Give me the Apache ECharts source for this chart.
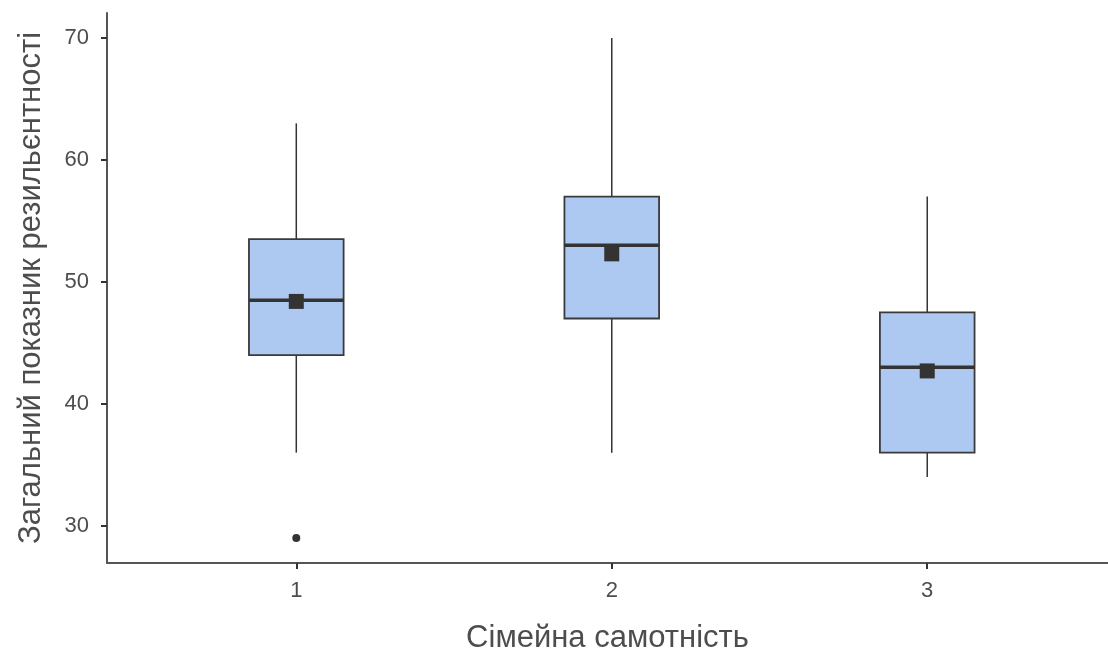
<!DOCTYPE html>
<html>
<head>
<meta charset="utf-8">
<script src="https://cdn.jsdelivr.net/npm/echarts@6/dist/echarts.min.js"></script>
<style>html,body{margin:0;padding:0;background:#fff}#c{width:1108px;height:652px}</style>
</head>
<body>
<div id="c"></div>
<script>
var categories = [1, 2, 3];
var whiskerLow = [36, 36, 34];
var q1 = [44, 47, 36];
var median = [48.5, 53, 43];
var q3 = [53.5, 57, 47.5];
var whiskerHigh = [63, 70, 57];
var means = [48.4, 52.3, 42.7];
var outliers = [[1, 29]];
var tickLabels = ['1', '2', '3'];
var yTicks = [30, 40, 50, 60, 70];

var boxData = categories.map(function (c, i) {
  return [c, whiskerLow[i], q1[i], median[i], q3[i], whiskerHigh[i]];
});
var meanData = categories.map(function (c, i) { return [c, means[i]]; });

var chart = echarts.init(document.getElementById('c'));
var font = 'Liberation Sans, Arial, sans-serif';
chart.setOption({
  animation: false,
  grid: { left: 107, top: 13, bottom: 89, right: 0, outerBoundsMode: 'none', containLabel: false },
  xAxis: {
    type: 'value', min: 0.4, max: 3.573,
    name: 'Сімейна самотність', nameLocation: 'middle', nameGap: 60,
    nameTextStyle: { fontFamily: font, fontSize: 31, color: '#4d4d4d' },
    axisLine: { lineStyle: { color: '#555', width: 2 } },
    axisTick: { show: true, customValues: categories, length: 6, lineStyle: { color: '#333', width: 2 } },
    axisLabel: { customValues: categories, fontFamily: font, fontSize: 22, color: '#4d4d4d', margin: 17,
      formatter: function (v) { return tickLabels[categories.indexOf(v)] || ''; } },
    splitLine: { show: false }
  },
  yAxis: {
    type: 'value', min: 26.95, max: 72.05, interval: 10,
    name: 'Загальний показник резильєнтності', nameLocation: 'middle', nameGap: 60,
    nameTextStyle: { fontFamily: font, fontSize: 31, color: '#4d4d4d' },
    axisLine: { show: true, lineStyle: { color: '#555', width: 2 } },
    axisTick: { show: true, length: 6, customValues: yTicks, lineStyle: { color: '#333', width: 2 } },
    axisLabel: { customValues: yTicks, fontFamily: font, fontSize: 22, color: '#4d4d4d', margin: 18 },
    splitLine: { show: false }
  },
  series: [
    {
      type: 'custom',
      data: boxData,
      renderItem: function (params, api) {
        var x = api.value(0);
        var hw = 0.15;
        var lo = api.coord([x, api.value(1)]);
        var b1 = api.coord([x - hw, api.value(2)]);
        var b3 = api.coord([x + hw, api.value(4)]);
        var md = api.coord([x, api.value(3)]);
        var hi = api.coord([x, api.value(5)]);
        var style = { stroke: '#333', lineWidth: 1.5 };
        return {
          type: 'group',
          children: [
            { type: 'line', shape: { x1: lo[0], y1: lo[1], x2: lo[0], y2: b1[1] }, style: style },
            { type: 'line', shape: { x1: hi[0], y1: hi[1], x2: hi[0], y2: b3[1] }, style: style },
            { type: 'rect', shape: { x: b1[0], y: b3[1], width: b3[0] - b1[0], height: b1[1] - b3[1] },
              style: { fill: '#aec9f1', stroke: '#3a3a3a', lineWidth: 1.8 } },
            { type: 'line', shape: { x1: b1[0], y1: md[1], x2: b3[0], y2: md[1] }, style: { stroke: '#333', lineWidth: 3.5 } }
          ]
        };
      },
      z: 2
    },
    {
      type: 'scatter', data: meanData, symbol: 'rect', symbolSize: 15,
      itemStyle: { color: '#333', opacity: 1 }, z: 3
    },
    {
      type: 'scatter', data: outliers, symbol: 'circle', symbolSize: 8,
      itemStyle: { color: '#333', opacity: 1 }, z: 3
    }
  ]
});
</script>
</body>
</html>
